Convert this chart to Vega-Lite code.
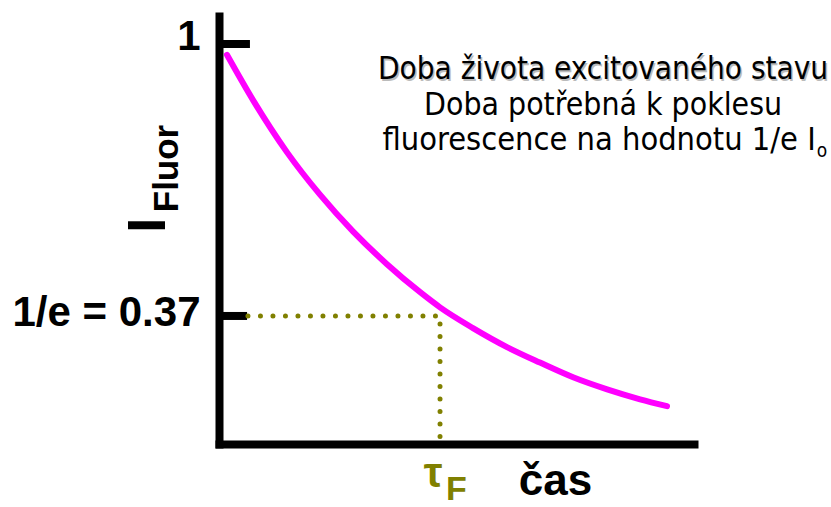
{
  "$schema": "https://vega.github.io/schema/vega-lite/v6.json",
  "width": 475,
  "height": 428,
  "autosize": {"type": "none"},
  "padding": {"left": 219, "top": 16, "right": 137, "bottom": 63},
  "background": "white",
  "config": {"view": {"stroke": null}, "font": "Liberation Sans"},
  "datasets": {
    "curve": [
      {"t": 0.036, "i": 0.975}, {"t": 0.154, "i": 0.870}, {"t": 0.308, "i": 0.749},
      {"t": 0.457, "i": 0.651}, {"t": 0.606, "i": 0.566}, {"t": 0.760, "i": 0.490},
      {"t": 0.910, "i": 0.425}, {"t": 1.000, "i": 0.390}, {"t": 1.149, "i": 0.342},
      {"t": 1.303, "i": 0.298}, {"t": 1.452, "i": 0.262}, {"t": 1.602, "i": 0.228},
      {"t": 1.756, "i": 0.200}, {"t": 1.905, "i": 0.177}, {"t": 2.027, "i": 0.161}
    ],
    "guide": [
      {"t": 0.131, "i": 0.37, "k": 1},
      {"t": 1.0, "i": 0.37, "k": 2},
      {"t": 1.0, "i": 0.080, "k": 3}
    ],
    "ticks": [
      {"i": 1, "t": 0, "t2": 0.14},
      {"i": 0.37, "t": 0, "t2": 0.127}
    ]
  },
  "encoding": {
    "x": {
      "field": "t", "type": "quantitative",
      "scale": {"domain": [0, 2.149], "nice": false, "zero": false},
      "axis": {"domain": true, "domainColor": "black", "domainWidth": 8, "domainCap": "square", "ticks": false, "labels": false, "title": null, "grid": false}
    },
    "y": {
      "field": "i", "type": "quantitative",
      "scale": {"domain": [0.0734, 1.0649], "nice": false, "zero": false},
      "axis": {"domain": true, "domainColor": "black", "domainWidth": 8, "domainCap": "square", "ticks": false, "grid": false, "title": null,
        "values": [1, 0.37], "labelExpr": "datum.value == 1 ? '1' : '1/e = 0.37'",
        "labelFont": "Liberation Sans", "labelFontWeight": "bold", "labelFontSize": 42, "labelColor": "black", "labelPadding": 19, "labelLimit": 400,
        "labelOffset": {"condition": {"test": "datum.value == 1", "value": -8}, "value": -3}}
    }
  },
  "layer": [
    {
      "data": {"name": "ticks"},
      "mark": {"type": "rule", "color": "black", "strokeWidth": 8},
      "encoding": {"x2": {"field": "t2"}}
    },
    {
      "data": {"name": "guide"},
      "mark": {"type": "line", "color": "#808000", "strokeWidth": 5, "strokeDash": [0, 12.5], "strokeCap": "round"},
      "encoding": {"order": {"field": "k"}}
    },
    {
      "data": {"name": "curve"},
      "mark": {"type": "line", "color": "#FF00FF", "strokeWidth": 6, "strokeCap": "round", "interpolate": "monotone"}
    },
    {
      "data": {"values": [{"t": -0.2443, "i": 0.580, "txt": "I"}]},
      "mark": {"type": "text", "angle": 270, "align": "center", "baseline": "alphabetic", "font": "Liberation Sans", "fontWeight": "bold", "fontSize": 54, "color": "black"},
      "encoding": {"text": {"field": "txt"}}
    },
    {
      "data": {"values": [{"t": -0.1855, "i": 0.7116, "txt": "Fluor"}]},
      "mark": {"type": "text", "angle": 270, "align": "center", "baseline": "alphabetic", "font": "Liberation Sans", "fontWeight": "bold", "fontSize": 35, "color": "black"},
      "encoding": {"text": {"field": "txt"}}
    },
    {
      "data": {"values": [{"t": 0.9683, "i": -0.0262, "txt": "τ"}]},
      "mark": {"type": "text", "align": "center", "baseline": "alphabetic", "font": "Liberation Sans", "fontWeight": "bold", "fontSize": 42, "color": "#808000"},
      "encoding": {"text": {"field": "txt"}}
    },
    {
      "data": {"values": [{"t": 1.027, "i": -0.057, "txt": "F"}]},
      "mark": {"type": "text", "align": "left", "baseline": "alphabetic", "font": "Liberation Sans", "fontWeight": "bold", "fontSize": 34, "color": "#808000"},
      "encoding": {"text": {"field": "txt"}}
    },
    {
      "data": {"values": [{"t": 1.5226, "i": -0.0447, "txt": "čas"}]},
      "mark": {"type": "text", "align": "center", "baseline": "alphabetic", "font": "Liberation Sans", "fontWeight": "bold", "fontSize": 44, "color": "black"},
      "encoding": {"text": {"field": "txt"}}
    },
    {
      "data": {"values": [{"t": 1.7376, "i": 0.9189, "txt": "Doba života excitovaného stavu"}]},
      "mark": {"type": "text", "align": "center", "baseline": "alphabetic", "font": "DejaVu Sans Condensed", "fontSize": 31.2, "color": "#bbbbbb", "dx": 1.5, "dy": 1.5},
      "encoding": {"text": {"field": "txt"}}
    },
    {
      "data": {"values": [{"t": 1.7376, "i": 0.9189, "txt": "Doba života excitovaného stavu"}]},
      "mark": {"type": "text", "align": "center", "baseline": "alphabetic", "font": "DejaVu Sans Condensed", "fontSize": 31.2, "color": "black"},
      "encoding": {"text": {"field": "txt"}}
    },
    {
      "data": {"values": [{"t": 1.7376, "i": 0.8355, "txt": "Doba potřebná k poklesu"}]},
      "mark": {"type": "text", "align": "center", "baseline": "alphabetic", "font": "DejaVu Sans Condensed", "fontSize": 31.7, "color": "black"},
      "encoding": {"text": {"field": "txt"}}
    },
    {
      "data": {"values": [{"t": 2.700, "i": 0.7545, "txt": "fluorescence na hodnotu 1/e I"}]},
      "mark": {"type": "text", "align": "right", "baseline": "alphabetic", "font": "DejaVu Sans Condensed", "fontSize": 32.3, "color": "black"},
      "encoding": {"text": {"field": "txt"}}
    },
    {
      "data": {"values": [{"t": 2.704, "i": 0.738, "txt": "o"}]},
      "mark": {"type": "text", "align": "left", "baseline": "alphabetic", "font": "DejaVu Sans Condensed", "fontSize": 19, "color": "black"},
      "encoding": {"text": {"field": "txt"}}
    }
  ]
}
